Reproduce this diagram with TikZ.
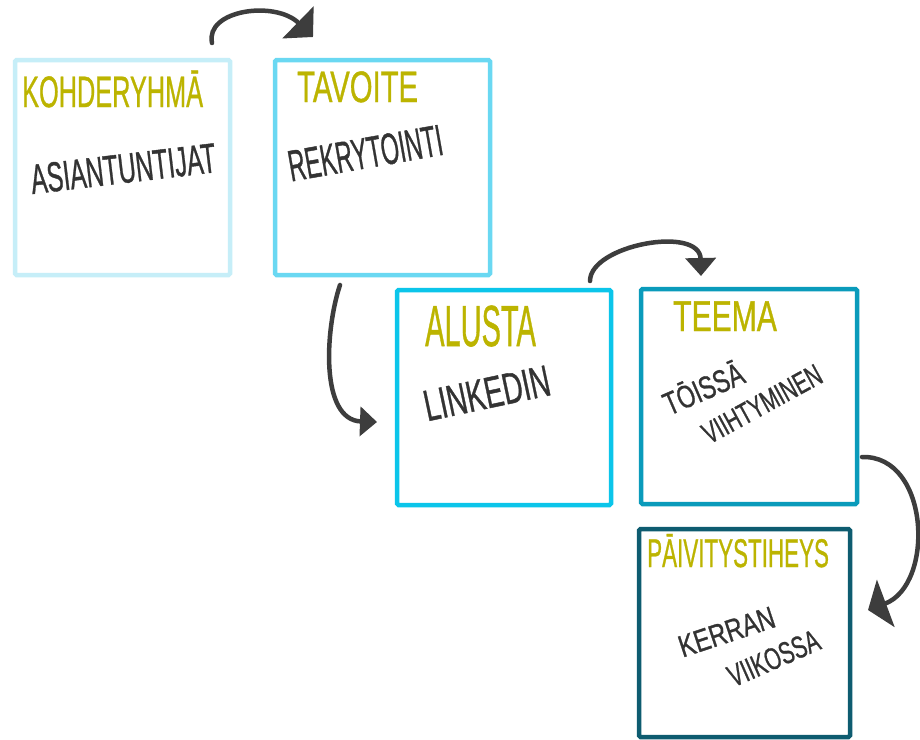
\documentclass[tikz,border=0pt]{standalone}
\usepackage{fontspec}
\setmainfont{Liberation Sans}
\newfontfamily\handfont{Liberation Sans}[FakeBold=1.0]
\usetikzlibrary{arrows.meta}
\definecolor{titlecol}{HTML}{BCB400}
\definecolor{bodycol}{HTML}{333333}
\definecolor{arrowcol}{HTML}{3D3D3D}
\definecolor{cardA}{HTML}{C6EEF8}
\definecolor{cardB}{HTML}{6AD8F2}
\definecolor{cardC}{HTML}{0BC5EA}
\definecolor{cardD}{HTML}{0A9BBB}
\definecolor{cardE}{HTML}{0E5C70}
\newcommand{\hw}[2]{\scalebox{#1}[1]{#2}}
\newcommand{\fs}[1]{\handfont\fontsize{#1}{#1}\selectfont}
\begin{document}
\begin{tikzpicture}[x=1pt,y=-1pt,
  card/.style={draw, line width=4.5pt, rounded corners=1.5pt, inner sep=0pt, fill=white},
  ttl/.style={text=titlecol, anchor=base west, inner sep=0pt},
  txt/.style={text=bodycol, anchor=base, inner sep=0pt},
  flow/.style={draw=arrowcol, line width=4.5pt, line cap=round}]
\useasboundingbox (0,0) rectangle (920,739);
\fill[white] (0,0) rectangle (920,739);

% cards
\node[card, draw=cardA, minimum width=215pt, minimum height=215pt] (kohde) at (122.5,167.5) {};
\node[card, draw=cardB, minimum width=215pt, minimum height=215pt] (tavoite) at (382.5,167.5) {};
\node[card, draw=cardC, minimum width=214pt, minimum height=215pt] (alusta) at (504,397.5) {};
\node[card, draw=cardD, minimum width=216pt, minimum height=215pt] (teema) at (749,396.5) {};
\node[card, draw=cardE, minimum width=211pt, minimum height=208pt] (paiv) at (744.5,633) {};

% titles
\node[ttl, font=\fs{44}] (t1) at (22,107) {\hw{0.575}{KOHDERYHMĀ}};
\node[ttl, font=\fs{44}] (t2) at (297,102) {\hw{0.665}{TAVOITE}};
\node[ttl, font=\fs{58}] (t3) at (425,346) {\hw{0.50}{ALUSTA}};
\node[ttl, font=\fs{43}] (t4) at (673,331) {\hw{0.70}{TEEMA}};
\node[ttl, font=\fs{40}] (t5) at (647,567) {\hw{0.56}{PĀIVITYSTIHEYS}};

% contents
\node[txt, font=\fs{42}, rotate=6.8] (x1) at (125,183) {\hw{0.58}{ASIANTUNTIJAT}};
\node[txt, font=\fs{44}, rotate=10] (x2) at (368,168) {\hw{0.53}{REKRYTOINTI}};
\node[txt, font=\fs{44}, rotate=12] (x3) at (490,408) {\hw{0.63}{LINKEDIN}};
\node[txt, font=\fs{32}, rotate=23.5] (x4a) at (708,399) {\hw{0.72}{TŌISSĀ}};
\node[txt, font=\fs{30}, rotate=28.7] (x4b) at (767,413) {\hw{0.68}{VIIHTYMINEN}};
\node[txt, font=\fs{31}, rotate=18.3] (x5a) at (730,642) {\hw{0.77}{KERRAN}};
\node[txt, font=\fs{31}, rotate=23.7] (x5b) at (778,668) {\hw{0.67}{VIIKOSSA}};

% connectors
\coordinate (a1s) at (212,43);  \coordinate (a1e) at (313,37);
\coordinate (a2s) at (340,285); \coordinate (a2e) at (377,422);
\coordinate (a3s) at (590,281); \coordinate (a3e) at (701,276);
\coordinate (a4s) at (862,457); \coordinate (a4e) at (868,610);

\draw[flow, -{Triangle[width=44pt,length=21pt]}] (a1s) .. controls (205,10) and (275,0) .. (a1e);
\draw[flow, -{Triangle[width=29pt,length=17pt]}] (a2s) .. controls (325,330) and (320,420) .. (a2e);
\draw[flow, -{Triangle[width=30pt,length=18pt]}] (a3s) .. controls (590,245) and (700,225) .. (a3e);
\draw[flow, -{Triangle[width=50pt,length=19pt]}] (a4s) .. controls (930,455) and (935,585) .. (a4e);
\end{tikzpicture}
\end{document}
